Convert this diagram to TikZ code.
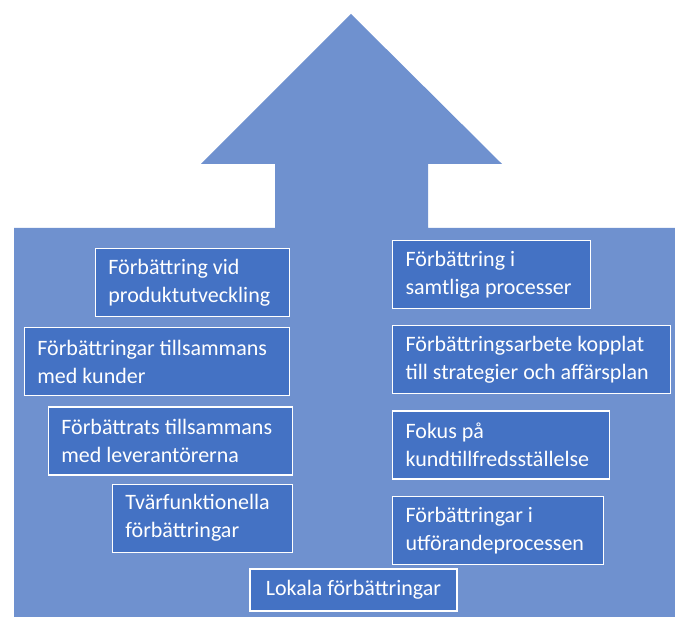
\documentclass[tikz,border=0pt]{standalone}
\usepackage{fontspec}
\setmainfont{Carlito}
\usepackage{tikz}
\usepackage{xcolor}
\usetikzlibrary{positioning}

\definecolor{arrowblue}{RGB}{111,145,207}
\definecolor{boxblue}{RGB}{68,114,196}

\begin{document}
\begin{tikzpicture}[
    x=1pt, y=1pt,
    node distance=10pt,
    stepbox/.style={rectangle, draw=white, line width=1.2pt, fill=boxblue, text=white,
        font=\fontsize{22}{28}\selectfont, align=flush left, inner xsep=13pt, inner ysep=0pt,
        minimum height=68pt}
]
\useasboundingbox (0,0) rectangle (675,617);

% Big arrow
\fill[arrowblue] (14,0) -- (14,389) -- (275,389) -- (275,453) -- (201,453) -- (351,603)
    -- (502,453) -- (428,453) -- (428,389) -- (675,389) -- (675,0) -- cycle;

% Left column
\coordinate (left_top) at (290,369);
\node[stepbox, text width=168pt, anchor=north east] (prod_dev) at (left_top) {Förbättring vid\\produktutveckling};
\node[stepbox, text width=239pt, below=10pt of prod_dev.south east, anchor=north east] (customers) {Förbättringar tillsammans\\med kunder};
\node[stepbox, text width=218pt, below=10pt of customers.south east, anchor=north east, xshift=3pt] (suppliers) {Förbättrats tillsammans\\med leverantörerna};
\node[stepbox, text width=154pt, below=8pt of suppliers.south east, anchor=north east] (cross_func) {Tvärfunktionella\\förbättringar};

% Right column
\coordinate (right_top) at (392,377);
\node[stepbox, text width=172pt, anchor=north west] (all_proc) at (right_top) {Förbättring i\\samtliga processer};
\node[stepbox, text width=252pt, below=16pt of all_proc.south west, anchor=north west] (strategy) {Förbättringsarbete kopplat\\till strategier och affärsplan};
\node[stepbox, text width=191pt, below=16pt of strategy.south west, anchor=north west] (cust_sat) {Fokus på\\kundtillfredsställelse};
\node[stepbox, text width=185pt, below=16pt of cust_sat.south west, anchor=north west] (execution) {Förbättringar i\\utförandeprocessen};

% Bottom
\node[stepbox, text width=181pt, minimum height=42pt, align=flush center] (local) at (353.5,27) {Lokala förbättringar};

\end{tikzpicture}
\end{document}
